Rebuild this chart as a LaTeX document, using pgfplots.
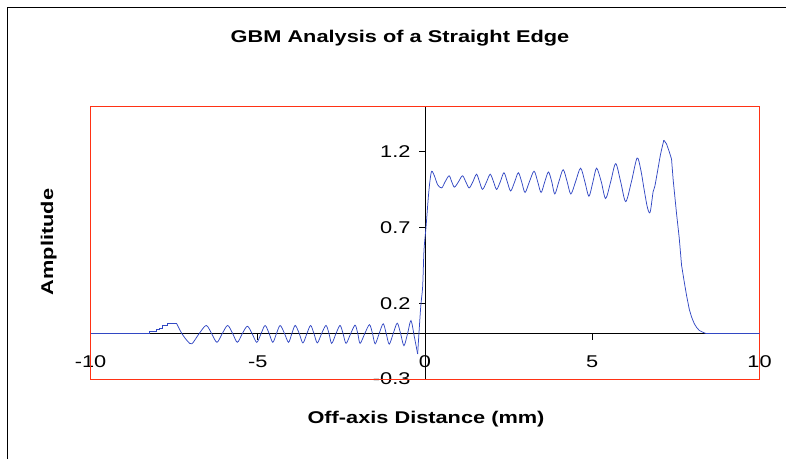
\documentclass[border=0pt]{standalone}
\usepackage{pgfplots}
\pgfplotsset{compat=1.18}
\usepackage{fontspec}
\setmainfont{Liberation Sans}
\newfontfamily\wfont[FakeStretch=1.28]{Liberation Sans}
\definecolor{curve}{RGB}{50,72,195}
\definecolor{frame}{RGB}{255,50,20}
\begin{document}
\begin{tikzpicture}[x=1pt,y=1pt]
\useasboundingbox (0,0) rectangle (786,459);
\draw[line width=1.5pt] (7.5,0) -- (7.5,451.5) -- (786,451.5);
\begin{axis}[
  at={(90.5pt,80pt)}, anchor=south west,
  scale only axis, width=669pt, height=273pt,
  xmin=-10, xmax=10, ymin=-0.3, ymax=1.5,
  axis lines=middle,
  axis line style={-, black, line width=1pt},
  xtick={-10,-5,0,5,10},
  xticklabels={-10,-5,0,5,10},
  ytick={-0.3,0.2,0.7,1.2},
  yticklabels={-0.3,0.2,0.7,1.2},
  hide obscured x ticks=false,
  hide obscured y ticks=false,
  tick align=outside,
  major tick length=6pt,
  tick style={black, line width=1pt},
  ticklabel style={font=\wfont\fontsize{17}{20}\selectfont},
  xticklabel style={yshift=-13pt},
  yticklabel style={xshift=-5pt},
  clip=false,
]
\draw[frame, line width=1pt] (rel axis cs:0,0) rectangle (rel axis cs:1,1);
% step part
\addplot[curve, line width=0.75pt] coordinates {
(-10,0) (-8.24,0) (-8.24,0.012) (-8.02,0.012) (-8.02,0.024) (-7.94,0.024)
(-7.94,0.036) (-7.84,0.036) (-7.84,0.052) (-7.70,0.052) (-7.70,0.064) (-7.42,0.064)
};
% left oscillations
\addplot[curve, line width=0.75pt, smooth] coordinates {
(-7.42,0.064) (-7.27,0.0) (-7.1,-0.05) (-6.97,-0.068) (-6.75,0) (-6.54,0.053)
(-6.38,0) (-6.22,-0.058) (-6.06,0) (-5.90,0.053) (-5.75,0) (-5.61,-0.058)
(-5.46,0) (-5.31,0.048) (-5.17,0) (-5.03,-0.058) (-4.90,0) (-4.78,0.053)
(-4.66,0) (-4.55,-0.058) (-4.44,0) (-4.33,0.053) (-4.2,0) (-4.08,-0.058)
(-3.98,0) (-3.88,0.053) (-3.76,0) (-3.65,-0.062) (-3.53,0) (-3.42,0.053)
(-3.32,0) (-3.22,-0.062) (-3.09,0) (-2.96,0.053) (-2.87,0) (-2.79,-0.065)
(-2.66,0) (-2.54,0.053) (-2.45,0) (-2.36,-0.065) (-2.22,0) (-2.09,0.055)
(-2.01,0) (-1.94,-0.065) (-1.80,0) (-1.66,0.058) (-1.57,0) (-1.49,-0.068)
(-1.37,0) (-1.25,0.064) (-1.16,0) (-1.07,-0.07) (-0.95,0) (-0.83,0.068)
(-0.73,0) (-0.63,-0.08) (-0.52,0) (-0.42,0.085) (-0.32,-0.02) (-0.22,-0.135)
};
% rise and top oscillations
\addplot[curve, line width=0.75pt, smooth] coordinates {
(-0.22,-0.135) (-0.13,0.17) (-0.07,0.31) (-0.03,0.55) (0.03,0.70) (0.1,0.90)
(0.15,1.01) (0.2,1.07) (0.28,1.04) (0.38,0.98) (0.5,0.96) (0.6,1.0) (0.72,1.04)
(0.80,1.0) (0.88,0.965) (1.0,1.0) (1.12,1.04) (1.22,1.0) (1.32,0.96) (1.43,1.0)
(1.54,1.05) (1.63,1.0) (1.72,0.95) (1.84,1.0) (1.95,1.05) (2.05,1.0) (2.14,0.95)
(2.25,1.0) (2.36,1.06) (2.46,1.0) (2.56,0.94) (2.68,1.0) (2.79,1.06) (2.89,1.0)
(2.99,0.93) (3.12,1.0) (3.26,1.07) (3.37,1.0) (3.47,0.93) (3.58,1.0) (3.69,1.065)
(3.79,1.0) (3.88,0.92) (4.0,1.0) (4.13,1.08) (4.25,1.0) (4.36,0.92) (4.5,1.0)
(4.65,1.09) (4.78,1.0) (4.90,0.905) (5.02,1.0) (5.13,1.09) (5.27,1.0) (5.40,0.89)
(5.55,1.0) (5.70,1.12) (5.85,1.0) (6.0,0.87) (6.17,1.0) (6.34,1.157) (6.45,1.08)
(6.55,0.95) (6.65,0.83) (6.73,0.80) (6.82,0.935) (6.87,0.97) (6.96,1.08)
(7.04,1.18) (7.14,1.275)
};
% fall
\addplot[curve, line width=0.75pt] coordinates {
(7.14,1.275) (7.22,1.25) (7.30,1.20) (7.37,1.15) (7.42,1.01) (7.52,0.79)
(7.60,0.63) (7.67,0.45) (7.75,0.34) (7.82,0.25) (7.90,0.16) (7.97,0.108)
(8.05,0.065) (8.12,0.04) (8.2,0.02) (8.31,0.008) (8.4,0) (10,0)
};
\end{axis}
\node[font=\wfont\bfseries\fontsize{17}{20}\selectfont, anchor=base] at (400,416) {GBM Analysis of a Straight Edge};
\node[font=\wfont\bfseries\fontsize{17}{20}\selectfont, anchor=base] at (426,36) {Off-axis Distance (mm)};
\node[font=\wfont\bfseries\fontsize{17}{20}\selectfont, anchor=base, rotate=90] at (53,217) {Amplitude};
\end{tikzpicture}
\end{document}
